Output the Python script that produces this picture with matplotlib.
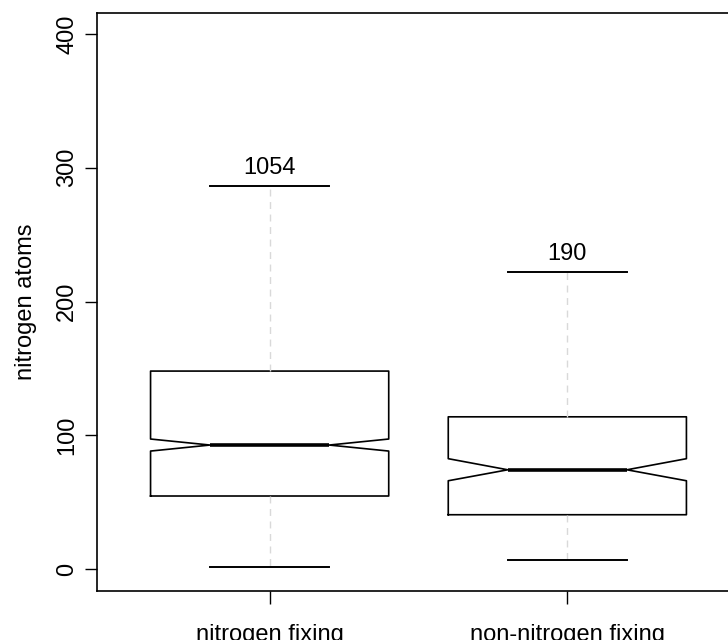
import matplotlib.pyplot as plt

plt.rcParams['font.family'] = ['Liberation Sans', 'DejaVu Sans']

groups = ['nitrogen fixing', 'non-nitrogen fixing']
counts = ['1054', '190']
whislo = [1.5, 6.7]
q1 = [54.6, 40.6]
med = [92.7, 74.2]
q3 = [148.0, 113.8]
whishi = [286.4, 222.0]
notch_lo = [88.2, 66.0]
notch_hi = [97.2, 82.5]

stats = []
for i in range(len(groups)):
    stats.append(dict(label=groups[i], whislo=whislo[i], q1=q1[i], med=med[i],
                      q3=q3[i], whishi=whishi[i], cilo=notch_lo[i],
                      cihi=notch_hi[i], fliers=[]))

fig = plt.figure(figsize=(7.28, 6.4), dpi=100)
ax = fig.add_axes([0.1332, 0.0766, 0.8833, 0.9031])

ax.bxp(stats, positions=[1, 2], widths=0.8, shownotches=True,
       boxprops=dict(color='black', linewidth=1.2),
       medianprops=dict(color='black', linewidth=2.6),
       whiskerprops=dict(color='#d9d9d9', linewidth=1.0, linestyle=(0, (5, 4))),
       capprops=dict(color='black', linewidth=1.4))

# sample sizes above the upper whisker
for i in range(len(groups)):
    ax.text(i + 1, whishi[i] + 5, counts[i], ha='center', va='bottom', fontsize=17)

ax.set_xlim(0.42, 2.58)
ax.set_ylim(-16.4, 415.7)
ax.set_yticks([0, 100, 200, 300, 400])
ax.set_yticklabels(['0', '100', '200', '300', '400'], rotation=90, va='center')
ax.set_xticks([1, 2])
ax.set_xticklabels(groups)
ax.tick_params(axis='both', labelsize=17, length=9, width=1.0, direction='out')
ax.tick_params(axis='x', pad=15)
ax.tick_params(axis='y', pad=4.5)
ax.set_ylabel('nitrogen atoms', fontsize=17, labelpad=14)
for s in ax.spines.values():
    s.set_linewidth(1.2)

fig.savefig('out.png', dpi=100)
